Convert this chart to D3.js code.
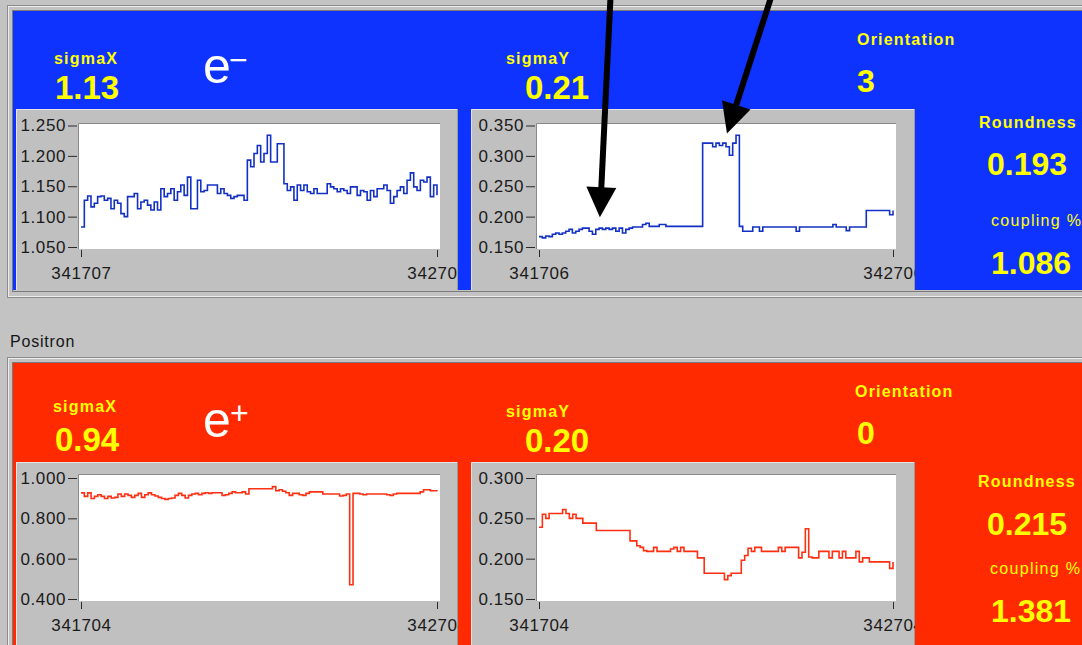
<!DOCTYPE html>
<html>
<head>
<meta charset="utf-8">
<script src="https://cdn.jsdelivr.net/npm/d3@7"></script>
<style>
  html, body { margin: 0; padding: 0; background: #c3c3c3; overflow: hidden; }
  svg { display: block; }
  text { font-family: "Liberation Sans", Arial, Helvetica, sans-serif; }
</style>
</head>
<body>
<svg id="screen" width="1082" height="645"></svg>
<script>
// ---- beam size history (one value per sample) ----
const electronSigmaX = [
  1.083,1.127,1.134,1.116,1.122,1.133,1.134,1.127,1.130,1.113,
  1.127,1.122,1.105,1.100,1.133,1.133,1.138,1.113,1.124,1.127,
  1.119,1.111,1.124,1.111,1.146,1.133,1.138,1.146,1.127,1.141,
  1.152,1.135,1.165,1.113,1.113,1.160,1.141,1.143,1.152,1.152,
  1.152,1.138,1.146,1.138,1.135,1.130,1.133,1.135,1.135,1.127,
  1.193,1.182,1.204,1.217,1.190,1.204,1.234,1.190,1.190,1.220,
  1.220,1.154,1.143,1.149,1.127,1.152,1.143,1.152,1.141,1.138,
  1.146,1.138,1.138,1.138,1.154,1.149,1.146,1.141,1.146,1.143,
  1.138,1.149,1.149,1.135,1.143,1.141,1.127,1.143,1.133,1.146,
  1.146,1.152,1.143,1.122,1.133,1.143,1.149,1.138,1.160,1.172,
  1.149,1.143,1.160,1.157,1.165,1.133,1.152,1.135
];
const electronSigmaY = [
  .167,.165,.168,.167,.171,.173,.171,.173,.176,.179,
  .173,.176,.179,.181,.181,.176,.171,.179,.181,.179,
  .181,.179,.181,.176,.181,.173,.179,.181,.183,.183,
  .183,.187,.189,.184,.184,.184,.187,.187,.184,.184,
  .184,.184,.184,.184,.184,.184,.184,.184,.184,.321,
  .321,.321,.315,.321,.317,.321,.315,.301,.321,.334,
  .184,.176,.176,.176,.183,.183,.176,.183,.183,.183,
  .183,.183,.183,.183,.183,.183,.183,.176,.183,.183,
  .183,.183,.183,.183,.183,.183,.183,.183,.187,.183,
  .183,.183,.177,.183,.183,.183,.183,.183,.210,.210,
  .210,.210,.210,.210,.210,.203,.210
];
const positronSigmaX = [
  .926,.909,.926,.898,.909,.917,.909,.898,.909,.901,
  .904,.921,.909,.921,.914,.904,.914,.924,.904,.917,
  .926,.917,.911,.904,.898,.894,.898,.901,.914,.924,
  .914,.901,.914,.921,.924,.917,.924,.927,.924,.927,
  .927,.927,.914,.917,.924,.931,.927,.927,.931,.921,
  .947,.947,.947,.947,.947,.947,.947,.957,.937,.942,
  .934,.927,.914,.924,.924,.917,.914,.924,.931,.931,
  .931,.931,.921,.921,.921,.921,.921,.911,.914,.921,
  .471,.924,.924,.921,.917,.921,.921,.921,.921,.921,
  .921,.917,.914,.921,.924,.924,.924,.924,.924,.924,
  .924,.931,.942,.942,.937,.937,.934
];
const positronSigmaY = [
  .239,.255,.250,.256,.256,.256,.256,.261,.256,.250,
  .255,.250,.250,.244,.244,.244,.244,.235,.235,.235,
  .235,.235,.235,.235,.235,.235,.235,.222,.222,.216,
  .214,.210,.209,.209,.214,.209,.209,.209,.209,.212,
  .214,.209,.214,.209,.209,.209,.209,.201,.201,.182,
  .182,.182,.182,.182,.182,.174,.179,.182,.182,.182,
  .198,.204,.213,.209,.214,.214,.209,.209,.209,.209,
  .209,.214,.209,.214,.214,.214,.214,.201,.208,.237,
  .202,.201,.201,.209,.209,.209,.201,.209,.209,.201,
  .209,.201,.201,.201,.209,.196,.201,.201,.196,.196,
  .196,.196,.196,.196,.188,.196
];

// first / last sample number shown on each strip chart
const electronSigmaXSamples = [341707, 342707];
const electronSigmaYSamples = [341706, 342706];
const positronSigmaXSamples = [341704, 342704];
const positronSigmaYSamples = [341704, 342704];

// vertical tick values
const electronSigmaXTicks = [1.05, 1.10, 1.15, 1.20, 1.25];
const electronSigmaYTicks = [0.15, 0.20, 0.25, 0.30, 0.35];
const positronSigmaXTicks = [0.4, 0.6, 0.8, 1.0];
const positronSigmaYTicks = [0.15, 0.20, 0.25, 0.30];

// current readouts
const readoutLabels = ["sigmaX", "sigmaY", "Orientation", "Roundness", "coupling %"];
const electronReadouts = ["1.13", "0.21", "3", "0.193", "1.086"];
const positronReadouts = ["0.94", "0.20", "0", "0.215", "1.381"];

// annotation arrows on the electron sigmaY history (sample, value at the tip)
const arrowSamples = [341878, 342237];
const arrowValues = [0.199, 0.337];

// ---------------------------------------------------------------
const svg = d3.select("#screen");
const W = 1082;

const panels = [
  {
    id: "el", fill: "#0f33ff", lineColor: "#1230c4", frameTop: 5, fillBottom: 290,
    sign: "\u2212", signPos: [229, 71], ePos: [203, 83],
    series: [electronSigmaX, electronSigmaY],
    samples: [electronSigmaXSamples, electronSigmaYSamples],
    ticks: [electronSigmaXTicks, electronSigmaYTicks],
    readouts: electronReadouts,
    box: [109, 290], plot: [124, 249], yRange: [247, 125.5],
    labelPos: [[54, 64], [506, 64], [857, 45], [979, 128], [991, 226]],
    valuePos: [[55, 99], [525, 99], [857, 92], [987, 175], [991, 274]]
  },
  {
    id: "po", fill: "#ff2a00", lineColor: "#ff2f12", frameTop: 357, fillBottom: 660,
    sign: "+", signPos: [230, 424], ePos: [203, 437],
    series: [positronSigmaX, positronSigmaY],
    samples: [positronSigmaXSamples, positronSigmaYSamples],
    ticks: [positronSigmaXTicks, positronSigmaYTicks],
    readouts: positronReadouts,
    box: [462, 648], plot: [475, 601], yRange: [599, 478],
    labelPos: [[53, 412], [506, 417], [855, 397], [978, 487], [990, 574]],
    valuePos: [[55, 451], [525, 452], [857, 444], [987, 535], [991, 622]]
  }
];

// horizontal layout shared by both panels: [box left, box right, plot left, plot right, first tick, last tick]
const columns = [
  [16, 458, 79, 440, 81, 437],
  [471, 915, 537, 896, 539, 893]
];

// window-style sunken groove frame around a panel
function frame(top, bottom) {
  const g = svg.append("g");
  const r = (x, y, h, c) => g.append("rect").attr("x", x).attr("y", y)
    .attr("width", W + 20).attr("height", h).attr("fill", "none").attr("stroke", c);
  r(7.5, top + 0.5, bottom - top + 7, "#8c8c8c");
  r(8.5, top + 1.5, bottom - top + 5, "#ececec");
  r(12.5, top + 5.5, bottom - top - 4, "#7a7a7a");
}

panels.forEach(p => {
  frame(p.frameTop, p.fillBottom);
  svg.append("rect").attr("x", 13).attr("y", p.frameTop + 6)
    .attr("width", W - 13).attr("height", p.fillBottom - p.frameTop - 6)
    .attr("fill", p.fill);

  // readout labels and values
  readoutLabels.forEach((lab, i) => {
    const regular = lab === "coupling %";
    svg.append("text").attr("x", p.labelPos[i][0]).attr("y", p.labelPos[i][1])
      .attr("fill", "#ffff00").attr("font-size", 16)
      .attr("font-weight", regular ? 400 : 700)
      .attr("letter-spacing", regular ? 1.3 : 1.2)
      .text(lab);
    svg.append("text").attr("x", p.valuePos[i][0]).attr("y", p.valuePos[i][1])
      .attr("fill", "#ffff00").attr("font-size", i < 2 ? 33 : 32)
      .attr("font-weight", 700)
      .text(p.readouts[i]);
  });

  // particle symbol
  svg.append("text").attr("x", p.ePos[0]).attr("y", p.ePos[1])
    .attr("fill", "#ffffff").attr("font-size", 50).text("e");
  svg.append("text").attr("x", p.signPos[0]).attr("y", p.signPos[1])
    .attr("fill", "#ffffff").attr("font-size", 32).text(p.sign);

  // two strip charts
  columns.forEach((c, k) => {
    const [bx0, bx1, px0, px1, tx0, tx1] = c;
    const [by0, by1] = p.box;
    const [py0, py1] = p.plot;
    const clipId = `clip-${p.id}-${k}`;
    const plotClipId = `plotclip-${p.id}-${k}`;
    const defs = svg.append("defs");
    defs.append("clipPath").attr("id", clipId).append("rect")
      .attr("x", bx0).attr("y", by0).attr("width", bx1 - bx0).attr("height", by1 - by0);
    defs.append("clipPath").attr("id", plotClipId).append("rect")
      .attr("x", px0).attr("y", py0).attr("width", px1 - px0).attr("height", py1 - py0);

    const g = svg.append("g").attr("clip-path", `url(#${clipId})`);
    g.append("rect").attr("x", bx0).attr("y", by0).attr("width", bx1 - bx0)
      .attr("height", by1 - by0).attr("fill", "#c0c0c0");
    g.append("path").attr("d", `M${bx0 + 0.5},${by1}V${by0 + 0.5}H${bx1}`)
      .attr("fill", "none").attr("stroke", "#e4e4e4");
    g.append("path").attr("d", `M${bx1 - 0.5},${by0}V${by1}`)
      .attr("fill", "none").attr("stroke", "#9a9a9a");

    g.append("rect").attr("x", px0).attr("y", py0).attr("width", px1 - px0)
      .attr("height", py1 - py0).attr("fill", "#ffffff");
    g.append("path").attr("d", `M${px0 - 0.5},${py1}V${py0 - 0.5}H${px1}`)
      .attr("fill", "none").attr("stroke", "#8a8a8a");

    const ticks = p.ticks[k];
    const y = d3.scaleLinear().domain([ticks[0], ticks[ticks.length - 1]]).range(p.yRange);
    const dom = p.samples[k];
    const x = d3.scaleLinear().domain(dom).range([tx0, tx1]);

    const yAxis = g.append("g").attr("transform", `translate(${px0 - 2},0)`)
      .call(d3.axisLeft(y).tickValues(ticks).tickSize(9).tickPadding(2)
        .tickFormat(d3.format(".3f")));
    const xAxis = g.append("g").attr("transform", `translate(0,${py1 + 1})`)
      .call(d3.axisBottom(x).tickValues(dom).tickSize(7).tickPadding(10)
        .tickFormat(d3.format("d")));
    [yAxis, xAxis].forEach(a => {
      a.select(".domain").remove();
      a.selectAll(".tick line").attr("stroke", "#2a2a2a");
      a.selectAll(".tick text").attr("fill", "#1a1a1a").attr("font-size", 17)
        .attr("letter-spacing", 0.6)
        .attr("font-family", '"Liberation Sans", Arial, Helvetica, sans-serif');
    });

    const vals = p.series[k];
    const step = (dom[1] - dom[0]) / (vals.length - 1);
    const line = d3.line()
      .x((d, i) => x(dom[0] + i * step))
      .y(d => y(d))
      .curve(d3.curveStepAfter);
    g.append("path").datum(vals)
      .attr("clip-path", `url(#${plotClipId})`)
      .attr("d", line)
      .attr("fill", "none")
      .attr("stroke", p.lineColor)
      .attr("stroke-width", 1.6)
      .attr("stroke-linejoin", "miter");

    // keep scales for the annotation arrows
    p[`scales${k}`] = { x, y };
  });
});

// band between the two panels
svg.append("text").attr("x", 10).attr("y", 347).attr("fill", "#151515")
  .attr("font-size", 16).attr("letter-spacing", 0.8).text("Positron");

// annotation arrows pointing at the electron sigmaY history
const sc = panels[0].scales1;
const tails = [[11, -228], [46, -142]];
arrowSamples.forEach((s, i) => {
  const tx = sc.x(s), ty = sc.y(arrowValues[i]);
  const sx = tx + tails[i][0], sy = ty + tails[i][1];
  const len = Math.hypot(tx - sx, ty - sy);
  const ux = (tx - sx) / len, uy = (ty - sy) / len;
  const headLen = 30, headHalf = 15;
  const bx = tx - ux * headLen, by = ty - uy * headLen;
  svg.append("line").attr("x1", sx).attr("y1", sy).attr("x2", bx + ux * 2).attr("y2", by + uy * 2)
    .attr("stroke", "#000").attr("stroke-width", 6);
  svg.append("path")
    .attr("d", `M${tx},${ty}L${bx - uy * headHalf},${by + ux * headHalf}L${bx + uy * headHalf},${by - ux * headHalf}Z`)
    .attr("fill", "#000");
});
</script>
</body>
</html>
